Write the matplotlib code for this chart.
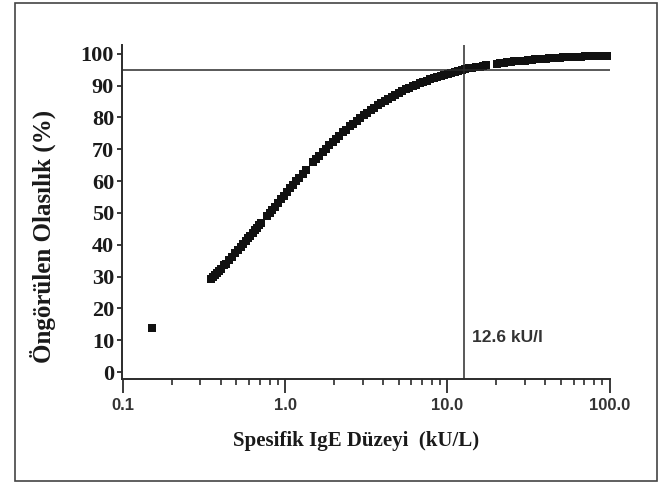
import matplotlib
matplotlib.use("Agg")
import matplotlib.pyplot as plt
from matplotlib.patches import Rectangle
from matplotlib.ticker import FixedLocator, NullFormatter, LogLocator

# values (specific IgE in kU/L, predicted probability in %)
ige = [0.15,
       0.35, 0.36, 0.37, 0.38, 0.39, 0.40, 0.42, 0.43, 0.45, 0.47, 0.49, 0.51,
       0.53, 0.55, 0.57, 0.59, 0.61, 0.63, 0.65, 0.67, 0.69, 0.71,
       0.77, 0.80, 0.83, 0.86, 0.90, 0.94, 0.98, 1.02, 1.07, 1.12, 1.17, 1.22,
       1.28, 1.34,
       1.48, 1.55, 1.62, 1.70, 1.78, 1.87, 1.96, 2.06, 2.16, 2.27, 2.38, 2.50,
       2.63, 2.76, 2.90, 3.05, 3.20, 3.37, 3.54, 3.72, 3.91, 4.11, 4.32, 4.54,
       4.77, 5.01, 5.27, 5.54, 5.82, 6.12, 6.43, 6.76, 7.10, 7.47, 7.85, 8.25,
       8.67, 9.11, 9.58, 10.07, 10.58, 11.12, 11.69, 12.29, 12.92, 13.58,
       14.27, 15.0, 15.8, 16.6, 17.4, 20.2, 21.2, 22.3, 23.4, 24.6, 25.9,
       27.2, 28.6, 30.0, 31.6, 33.2, 34.9, 36.7, 38.6, 40.6, 42.6, 44.8, 47.1,
       49.5, 52.0, 54.7, 57.5, 60.4, 63.5, 66.7, 70.1, 73.7, 77.5,
       83.0, 87.0, 91.0, 95.0, 99.0]
prob = [13.8,
        29.3, 29.9, 30.6, 31.2, 31.8, 32.3, 33.5, 34.0, 35.2, 36.2, 37.3, 38.3,
        39.2, 40.2, 41.1, 42.0, 42.9, 43.7, 44.5, 45.3, 46.1, 46.9,
        49.0, 50.0, 51.0, 52.0, 53.2, 54.3, 55.4, 56.5, 57.7, 58.9, 60.1, 61.1,
        62.3, 63.5,
        65.9, 67.0, 68.0, 69.1, 70.2, 71.3, 72.3, 73.3, 74.3, 75.3, 76.2, 77.2,
        78.1, 79.0, 79.8, 80.7, 81.5, 82.3, 83.0, 83.8, 84.5, 85.2, 85.8, 86.5,
        87.1, 87.6, 88.2, 88.8, 89.3, 89.8, 90.3, 90.7, 91.1, 91.6, 92.0, 92.4,
        92.7, 93.1, 93.4, 93.7, 94.0, 94.3, 94.6, 94.9, 95.1, 95.4,
        95.6, 95.8, 96.0, 96.2, 96.4, 96.9, 97.1, 97.2, 97.3, 97.5, 97.6,
        97.7, 97.8, 97.9, 98.1, 98.2, 98.3, 98.3, 98.4, 98.5, 98.6, 98.7, 98.7,
        98.8, 98.9, 98.9, 99.0, 99.0, 99.1, 99.1, 99.2, 99.2, 99.2,
        99.3, 99.3, 99.4, 99.4, 99.4]

cutoff_x = 12.6
cutoff_y = 95
cutoff_label = "12.6 kU/l"

xtick_vals = [0.1, 1.0, 10.0, 100.0]
xtick_labels = ["0.1", "1.0", "10.0", "100.0"]
ytick_vals = [0, 10, 20, 30, 40, 50, 60, 70, 80, 90, 100]

dark = "#2b2b2b"

fig = plt.figure(figsize=(6.67, 4.83), dpi=100)

# outer frame around the whole figure
fig.patches.append(Rectangle((0.0225, 0.004), 0.9625, 0.99, transform=fig.transFigure,
                             fill=False, edgecolor="#444444", linewidth=1.2))

ax = fig.add_axes([0.183, 0.2153, 0.7317, 0.6917])

ax.plot(ige, prob, linestyle="none", marker="s", markersize=5.2,
        color="#111111", markeredgewidth=0)

# cut-off lines
ax.axhline(cutoff_y, color=dark, linewidth=1.1)
ax.axvline(cutoff_x, color=dark, linewidth=1.1)
ax.text(14.2, 11, cutoff_label, fontsize=12.5, fontweight="bold", color="#333333",
        family="Liberation Sans", va="center", ha="left")

ax.set_xscale("log")
ax.set_xlim(0.0986, 100.8)
ax.set_ylim(-2.2, 102.8)

ax.spines["top"].set_visible(False)
ax.spines["right"].set_visible(False)
ax.spines["left"].set_linewidth(1.4)
ax.spines["bottom"].set_linewidth(1.4)
ax.spines["left"].set_color(dark)
ax.spines["bottom"].set_color(dark)

ax.xaxis.set_major_locator(FixedLocator(xtick_vals))
ax.xaxis.set_minor_locator(LogLocator(base=10, subs=range(2, 10)))
ax.xaxis.set_minor_formatter(NullFormatter())
ax.set_xticklabels(xtick_labels, fontsize=12, fontweight="bold", color="#333333",
                   family="Liberation Sans")
ax.tick_params(axis="x", which="major", length=10, width=1.3, color=dark, pad=4)
ax.tick_params(axis="x", which="minor", length=4.5, width=1.2, color=dark)

ax.set_yticks(ytick_vals)
ax.set_yticklabels([str(v) for v in ytick_vals], fontsize=16, fontweight="bold",
                   family="Liberation Serif", color="#1a1a1a")
ax.tick_params(axis="y", which="major", length=3.8, width=1.3, color=dark, pad=2)

ax.set_xlabel("Spesifik IgE Düzeyi  (kU/L)", fontsize=15, fontweight="bold",
              family="Liberation Serif", color="#1a1a1a")
ax.xaxis.set_label_coords(0.48, -0.156)
ax.set_ylabel("Öngörülen Olasılık (%)", fontsize=18, fontweight="bold",
              family="Liberation Serif", color="#1a1a1a")
ax.yaxis.set_label_coords(-0.135, 0.428)

fig.savefig("out.png", dpi=100)
